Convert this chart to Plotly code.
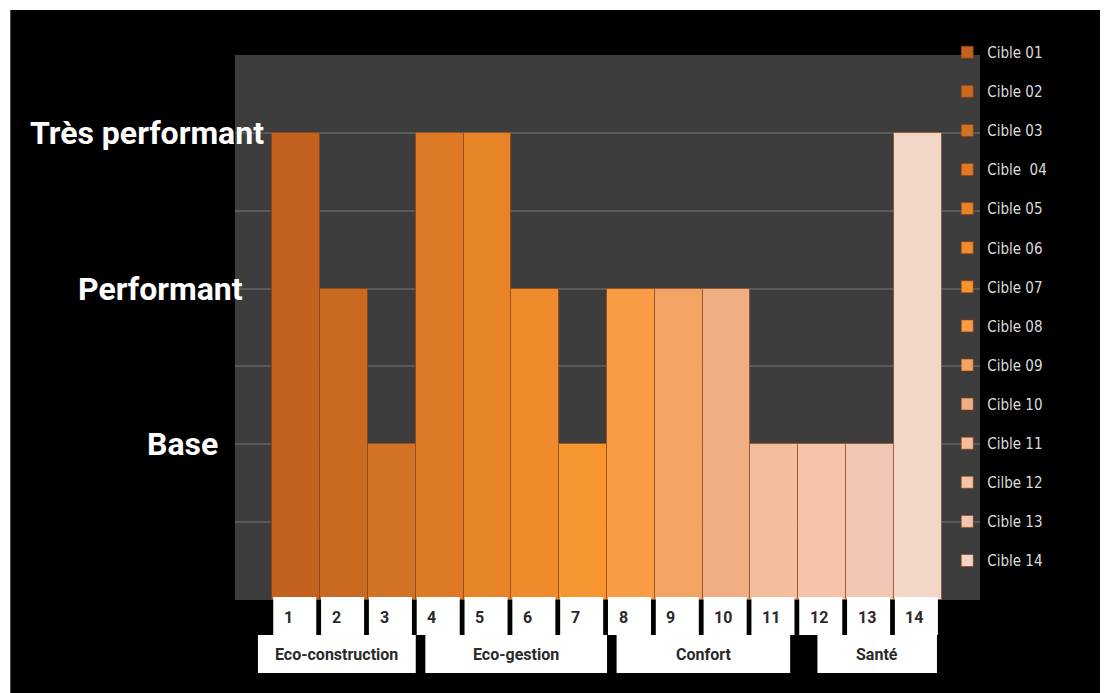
import plotly.graph_objects as go

# data
cibles = ["Cible 01", "Cible 02", "Cible 03", "Cible  04", "Cible 05", "Cible 06", "Cible 07",
          "Cible 08", "Cible 09", "Cible 10", "Cible 11", "Cilbe 12", "Cible 13", "Cible 14"]
positions = list(range(1, 15))
levels = [3, 2, 1, 3, 3, 2, 1, 2, 2, 2, 1, 1, 1, 3]
level_values = [1, 2, 3]
level_labels = ["Base", "Performant", "Très performant"]
groups = ["Eco-construction", "Eco-gestion", "Confort", "Santé"]
group_first = [1, 4, 8, 12]
group_last = [3, 7, 11, 14]

colors = ["#c2621e", "#ca6a21", "#d27225", "#de7a25", "#e88428", "#ef8b2c", "#f7952f",
          "#f89c45", "#f2a464", "#efae84", "#f4bd9e", "#f5c4a8", "#f1c6b2", "#f2d6c8"]

narrow = "Liberation Sans Narrow, Arial Narrow, Roboto, sans-serif"

fig = go.Figure()
for i in range(14):
    fig.add_trace(go.Bar(
        x=[positions[i]], y=[levels[i]], name=cibles[i], width=1,
        legendgroup=str(i),
        marker=dict(color=colors[i], line=dict(color="rgba(140,60,15,0.6)", width=1)),
    ))

annotations = []
# level labels on the left
label_right = [-0.02, 0.013, 0.042]
for v, t, xr in zip(level_values, level_labels, label_right):
    annotations.append(dict(x=xr, xref="paper", y=v, yref="y", text="<b>" + t + "</b>",
                            showarrow=False, xanchor="right", yanchor="middle",
                            font=dict(family=narrow, size=32, color="white")))

shapes = []
# white boxes with the target numbers
for p in positions:
    shapes.append(dict(type="rect", xref="x", yref="paper", x0=p - 0.48, x1=p + 0.42,
                       ysizemode="pixel", yanchor=0, y0=3, y1=-35,
                       fillcolor="white", line=dict(width=0)))
    annotations.append(dict(x=p - 0.3, xref="x", y=0, yref="paper", yshift=-17,
                            text="<b>%d</b>" % p, showarrow=False, xanchor="left",
                            yanchor="middle", font=dict(family=narrow, size=16, color="#2a2a2a")))

# group boxes (left/right insets as in the picture)
pad_left = [-0.3, 0.2, 0.2, 0.4]
pad_right = [0.0, 0.0, -0.17, -0.1]
for g, a, b, pl, pr in zip(groups, group_first, group_last, pad_left, pad_right):
    shapes.append(dict(type="rect", xref="x", yref="paper", x0=a - 0.5 + pl, x1=b + 0.5 + pr,
                       ysizemode="pixel", yanchor=0, y0=-35, y1=-73,
                       fillcolor="white", line=dict(width=0)))
    annotations.append(dict(x=(a + b + pl + pr) / 2, xref="x", y=0, yref="paper", yshift=-54,
                            text="<b>" + g + "</b>", showarrow=False, xanchor="center",
                            yanchor="middle", font=dict(family=narrow, size=16, color="#2a2a2a")))

# thin white strip on the top and left edge of the picture
shapes.append(dict(type="rect", xref="paper", yref="paper", x0=-0.4, x1=1.3, y0=1.0826, y1=1.2,
                   fillcolor="white", line=dict(width=0)))
shapes.append(dict(type="rect", xref="paper", yref="paper", x0=-0.4, x1=-0.3016, y0=-0.3, y1=1.2,
                   fillcolor="white", line=dict(width=0)))

fig.update_layout(
    width=1100, height=685,
    margin=dict(l=227, r=128, t=47, b=93),
    paper_bgcolor="black", plot_bgcolor="#3d3d3d",
    barmode="overlay", bargap=0,
    showlegend=True,
    legend=dict(x=0.956, xanchor="left", y=1.035, yanchor="top", traceorder="grouped",
                tracegroupgap=16.6, itemwidth=30, bgcolor="rgba(0,0,0,0)", maxheight=660,
                font=dict(family="DejaVu Sans Condensed, Liberation Sans Narrow, sans-serif",
                          size=15, color="#dcdcdc")),
    xaxis=dict(range=[-0.28, 15.3], showticklabels=False, showgrid=False, zeroline=False,
               fixedrange=True),
    yaxis=dict(range=[0, 3.5], dtick=0.5, showticklabels=False, gridcolor="#5a5a5a",
               gridwidth=1.5, zeroline=False),
    shapes=shapes,
    annotations=annotations,
)

fig.write_html("out.html")
